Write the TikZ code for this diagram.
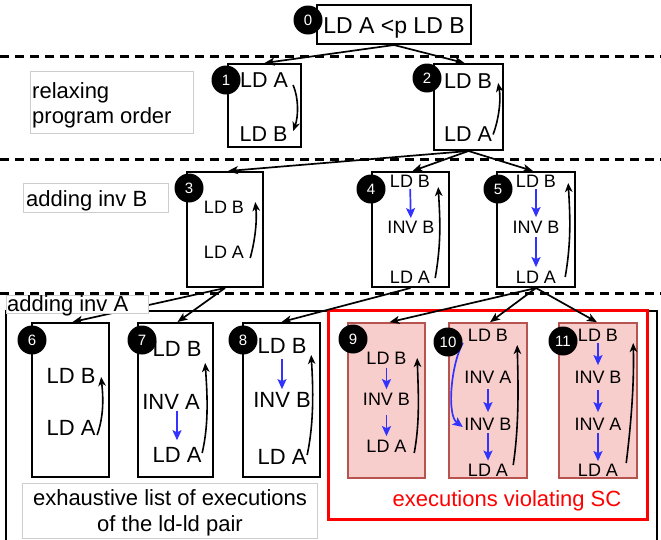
\documentclass[tikz,border=0pt]{standalone}
\usepackage{fontspec}
\setmainfont{Liberation Sans}
\usetikzlibrary{arrows.meta,calc}
\definecolor{invblue}{RGB}{51,51,255}
\definecolor{scfill}{HTML}{F8CECC}
\definecolor{scdraw}{HTML}{B85450}
\definecolor{lblgray}{RGB}{205,205,205}
\newcommand{\fsz}[1]{\fontsize{#1}{#1}\selectfont}

\begin{document}
\begin{tikzpicture}[x=1pt,y=-1pt,
  exec/.style={draw=black,line width=2pt,fill=white,inner sep=0pt},
  viol/.style={draw=scdraw,line width=1.6pt,fill=scfill,inner sep=0pt},
  txtL/.style={font=\fsz{22},inner sep=0pt},
  txtM/.style={font=\fsz{21.5},inner sep=0pt},
  txtS/.style={font=\fsz{18},inner sep=0pt},
  tag/.style={circle,fill=black,text=white,minimum size=29pt,inner sep=0pt,font=\fsz{15}},
  link/.style={line width=1.7pt,-{Stealth[length=10pt,width=8pt,inset=2.5pt]}},
  po/.style={line width=1.6pt,-{Stealth[length=9pt,width=7.5pt,inset=2.5pt]}},
  inv/.style={invblue,line width=1.7pt,-{Stealth[length=10pt,width=9pt,inset=2pt]}},
  sep/.style={line width=3pt,dash pattern=on 9pt off 6pt},
  lbl/.style={draw=lblgray,line width=0.8pt,fill=white,inner sep=0pt}
]
\useasboundingbox (0,0) rectangle (661,539);

% level separators
\draw[sep] (0,56) -- (661,56);
\draw[sep] (0,159.5) -- (661,159.5);
\draw[sep] (0,293) -- (661,293);

% frame around the final executions, and the SC-violating group
\draw[line width=2pt] (6,545) -- (6,311) -- (657,311) -- (657,545);
\draw[red,line width=3pt] (328,310) rectangle (647,519);

% ---------- level 0 ----------
\node[exec,minimum width=154pt,minimum height=39pt] (b0) at (394,24.5) {};
\node[font=\fsz{23},inner sep=0pt,anchor=base] (t0) at (394,33) {LD A <p LD B};

% ---------- level 1 ----------
\node[exec,minimum width=73pt,minimum height=83pt] (b1) at (264.5,105.5) {};
\node[txtM] (t1a) at (264,80) {LD A};
\node[txtM] (t1b) at (263.5,134) {LD B};
\draw[po] ($(t1a.east)+(5,5)$) .. controls +(6,14) and +(5,-14) .. ($(t1b.east)+(5.6,-3)$);

\node[exec,minimum width=69pt,minimum height=86pt] (b2) at (468.5,107) {};
\node[txtM] (t2a) at (468,81.5) {LD B};
\node[txtM] (t2b) at (468,134.5) {LD A};
\draw[po] ($(t2b.east)+(1,0)$) .. controls +(6,-16) and +(3,16) .. ($(t2a.east)+(6,1.5)$);

% ---------- level 2 ----------
\node[exec,minimum width=76pt,minimum height=115pt] (b3) at (225,229.5) {};
\node[txtS] (t3a) at (224,207) {LD B};
\node[txtS] (t3b) at (224,252.5) {LD A};
\draw[po] ($(t3b.east)+(6,5.5)$) .. controls +(5,-18) and +(2,18) .. ($(t3a.east)+(11,-5)$);

\node[exec,minimum width=77pt,minimum height=115pt] (b4) at (410.5,229.5) {};
\node[txtS] (t4a) at (410,181) {LD B};
\node[txtS] (t4b) at (411,227) {INV B};
\node[txtS] (t4c) at (410,277) {LD A};
\draw[inv,shorten <=1.5pt,shorten >=2.5pt] (t4a) -- (t4b);
\draw[po] ($(t4c.east)+(5,1)$) .. controls +(6,-35) and +(2,35) .. ($(t4a.east)+(8,6)$);

\node[exec,minimum width=78pt,minimum height=115pt] (b5) at (536,229.5) {};
\node[txtS] (t5a) at (536,181) {LD B};
\node[txtS] (t5b) at (536,227) {INV B};
\node[txtS] (t5c) at (536,277) {LD A};
\draw[inv,shorten <=1.5pt,shorten >=3.5pt] (t5a) -- (t5b);
\draw[inv,shorten <=3.5pt,shorten >=3.5pt] (t5b) -- (t5c);
\draw[po] ($(t5c.east)+(9,0)$) .. controls +(6,-35) and +(2,35) .. ($(t5a.east)+(12,2)$);

% ---------- level 3 ----------
\node[exec,minimum width=77pt,minimum height=154pt] (b6) at (70.5,400) {};
\node[txtL] (t6a) at (71,375.5) {LD B};
\node[txtL] (t6b) at (71,428) {LD A};
\draw[po] ($(t6b.east)+(1.5,7)$) .. controls +(7,-20) and +(2,20) .. ($(t6a.east)+(5.5,1.5)$);

\node[exec,minimum width=75pt,minimum height=154pt] (b7) at (175.5,400) {};
\node[txtL] (t7a) at (177,349) {LD B};
\node[txtL] (t7b) at (171,401.5) {INV A};
\node[txtL] (t7c) at (177,455) {LD A};
\draw[inv,shorten <=1.6pt,shorten >=7pt] (t7b.south-|t7c.north) -- (t7c);
\draw[po] ($(t7c.east)+(0.5,-2)$) .. controls +(7,-30) and +(2,30) .. ($(t7a.east)+(3.5,14)$);

\node[exec,minimum width=77pt,minimum height=154pt] (b8) at (281.5,400) {};
\node[txtL] (t8a) at (282,346) {LD B};
\node[txtL] (t8b) at (282,399.5) {INV B};
\node[txtL] (t8c) at (282,457) {LD A};
\draw[inv,shorten <=5pt,shorten >=2.6pt] (t8a) -- (t8b);
\draw[po] ($(t8c.east)+(0.5,-2)$) .. controls +(7,-33) and +(2,33) .. ($(t8a.east)+(4.5,9)$);

\node[viol,minimum width=77pt,minimum height=155pt] (b9) at (386.5,400.5) {};
\node[txtS] (t9a) at (386.5,358) {LD B};
\node[txtS] (t9b) at (386.5,399.5) {INV B};
\node[txtS] (t9c) at (386.5,446.5) {LD A};
\draw[inv,shorten <=3.5pt,shorten >=4pt] (t9a) -- (t9b);
\draw[inv,shorten <=9pt,shorten >=4pt] (t9b) -- (t9c);
\draw[po] ($(t9c.east)+(7.5,6.5)$) .. controls +(6,-32) and +(1,32) .. ($(t9a.east)+(10.5,0)$);

\node[viol,minimum width=78pt,minimum height=155pt] (b10) at (488,400.5) {};
\node[txtS] (t10a) at (488,335) {LD B};
\node[txtS] (t10b) at (488,377.5) {INV A};
\node[txtS] (t10c) at (488,424) {INV B};
\node[txtS] (t10d) at (488,470) {LD A};
\draw[inv,shorten <=5.5pt,shorten >=5.5pt] (t10b) -- (t10c);
\draw[inv,shorten <=3pt,shorten >=3pt] (t10c) -- (t10d);
\draw[inv] ($(t10a.west)+(-5,8)$) .. controls +(-12,22) and +(-16,-12) .. ($(t10c.west)+(-1.5,3)$);
\draw[po] ($(t10d.east)+(5,-5)$) .. controls +(6,-40) and +(1,40) .. ($(t10a.east)+(9,10)$);

\node[viol,minimum width=78pt,minimum height=155pt] (b11) at (598,400.5) {};
\node[txtS] (t11a) at (598,335) {LD B};
\node[txtS] (t11b) at (598,377) {INV B};
\node[txtS] (t11c) at (598,424) {INV A};
\node[txtS] (t11d) at (598,470) {LD A};
\draw[inv,shorten <=1.5pt,shorten >=5.5pt] (t11a) -- (t11b);
\draw[inv,shorten <=6.5pt,shorten >=5.5pt] (t11b) -- (t11c);
\draw[inv,shorten <=2.5pt,shorten >=2.5pt] (t11c) -- (t11d);
\draw[po] ($(t11d.east)+(8,-7)$) .. controls +(5,-40) and +(1,40) .. ($(t11a.east)+(15,8)$);

% ---------- derivation edges ----------
\draw[link] (b0.south) -- (b1.north);
\draw[link] (b0.south) -- ([xshift=-4pt]b2.north);
\draw[link] (b2.south) -- ([xshift=3pt]b3.north);
\draw[link] (b2.south) -- ([xshift=2pt]b4.north);
\draw[link] (b2.south) -- ([xshift=-3pt]b5.north);
\draw[link] (b3.south) -- ([xshift=2pt]b6.north);
\draw[link] (b3.south) -- ([xshift=2pt]b7.north);
\draw[link] (b4.south) -- (b8.north);
\draw[link] (b5.south) -- ([xshift=3pt]b9.north);
\draw[link] (b5.south) -- ([xshift=2pt]b10.north);
\draw[link] (b5.south) -- ([xshift=-1pt]b11.north);

% ---------- captions ----------
\node[lbl,minimum width=163pt,minimum height=62pt] (l1) at (111.5,102) {};
\node[txtL,anchor=base west] (l1a) at (32,98) {relaxing};
\node[txtL,anchor=base west] (l1b) at (32,123) {program order};

\node[lbl,minimum width=145pt,minimum height=29pt] (l2) at (95.5,197.5) {};
\node[txtL,anchor=base west] (l2a) at (26,206.5) {adding inv B};

\node[lbl,minimum width=142pt,minimum height=18pt] (l3) at (77,304) {};
\node[txtL,anchor=base west] (l3a) at (7,311) {adding inv A};

\node[lbl,minimum width=295pt,minimum height=55pt] (l4) at (169.5,510.5) {};
\node[txtL,anchor=base] (l4a) at (170,505) {exhaustive list of executions};
\node[txtL,anchor=base] (l4b) at (170,531) {of the ld-ld pair};

\node[txtL,text=red,anchor=base] (l5) at (507,506) {executions violating SC};

% ---------- execution numbers ----------
\node[tag] (c0) at (308,20) {0};
\node[tag] (c1) at (226,80) {1};
\node[tag] (c2) at (427,78) {2};
\node[tag] (c3) at (189,188) {3};
\node[tag] (c4) at (371,189) {4};
\node[tag] (c5) at (498,189) {5};
\node[tag] (c6) at (32,340) {6};
\node[tag] (c7) at (142,340) {7};
\node[tag] (c8) at (243,340) {8};
\node[tag] (c9) at (353,339) {9};
\node[tag] (c10) at (448,342) {10};
\node[tag] (c11) at (563,341) {11};
\end{tikzpicture}
\end{document}
